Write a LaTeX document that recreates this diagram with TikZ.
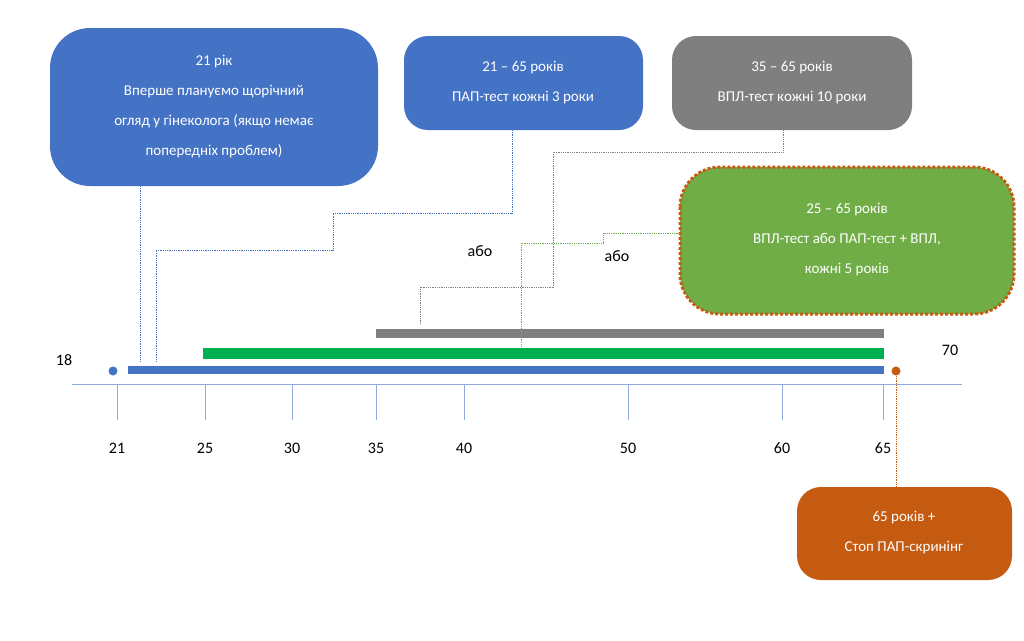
\documentclass[tikz,border=0pt]{standalone}
\usepackage{fontspec}
\setmainfont{Carlito}
\begin{document}
\begin{tikzpicture}[x=1pt,y=-1pt,
  box/.style={rounded corners=34pt,text=white,align=center,font=\fontsize{15}{30}\selectfont},
  conn/.style={densely dotted,line width=0.8pt},
  tick/.style={draw=axisblue,line width=0.8pt},
  lab/.style={font=\fontsize{16}{18}\selectfont}]
\definecolor{bblue}{HTML}{4472C4}
\definecolor{axisblue}{HTML}{8FAADC}
\definecolor{ggray}{HTML}{7F7F7F}
\definecolor{ggreen}{HTML}{70AD47}
\definecolor{bgreen}{HTML}{00B050}
\definecolor{oorange}{HTML}{C55A11}
\useasboundingbox (0,0) rectangle (1024,640);
% boxes
\fill[bblue,rounded corners=40pt] (50,28) rectangle (378,186);
\node[box] (b1) at (214,107) {21 рік\\Вперше плануємо щорічний\\огляд у гінеколога (якщо немає\\попередніх проблем)};
\coordinate (b1s) at (140,186);
\fill[bblue,rounded corners=24pt] (404,36) rectangle (643,130);
\node[box] (b2) at (523,83) {21 – 65 років\\ПАП-тест кожні 3 роки};
\coordinate (b2s) at (512,130);
\fill[ggray,rounded corners=24pt] (672,36) rectangle (912,130);
\node[box] (b3) at (792,83) {35 – 65 років\\ВПЛ-тест кожні 10 роки};
\coordinate (b3s) at (783,130);
\filldraw[fill=ggreen,draw=oorange,line width=3pt,dotted,rounded corners=40pt] (680,167) rectangle (1014,314);
\node[box] (b4) at (847,240) {25 – 65 років\\ВПЛ-тест або ПАП-тест + ВПЛ,\\кожні 5 років};
\coordinate (b4w) at (680,233);
\fill[oorange,rounded corners=24pt] (797,487) rectangle (1012,580);
\node[box] (b5) at (904,533) {65 років +\\Стоп ПАП-скринінг};
\coordinate (b5n) at (896,487);
% axis
\draw[axisblue,line width=1pt] (72,384) -- (962,384);
\foreach \x/\t in {117/21,205/25,292/30,376/35,464/40,628/50,782/60,883/65}{
  \draw[tick] (\x,384) -- (\x,420);
  \node[lab] at (\x,448) {\t};
}
\node[lab] at (64,360) {18};
\node[lab] at (950,350) {70};
% bars
\draw[ggray,line width=9pt] (376,333) -- (884,333);
\draw[bgreen,line width=11pt] (203,353) -- (884,353);
\draw[bblue,line width=8pt] (128,370) -- (884,370);
\fill[bblue] (113,371) circle (4.5);
\fill[oorange] (896,371) circle (4.5);
\coordinate (e1) at (140,362);
\coordinate (e2) at (156,362);
\coordinate (e3) at (420,325);
\coordinate (e4) at (521,347);
\coordinate (e5) at (896,376);
% connectors
\draw[conn,bblue] (b1s) -- (e1);
\draw[conn,bblue] (b2s) |- (333,213) |- (156,250) -- (e2);
\draw[conn,ggray] (b3s) |- (553,152) |- (420,287) -- (e3);
\draw[conn,ggreen] (b4w) -| (603,243) -| (e4);
\draw[conn,oorange] (e5) -- (b5n);
\node[lab] (o1) at (480,251) {або};
\node[lab] (o2) at (617,256) {або};
\end{tikzpicture}
\end{document}
